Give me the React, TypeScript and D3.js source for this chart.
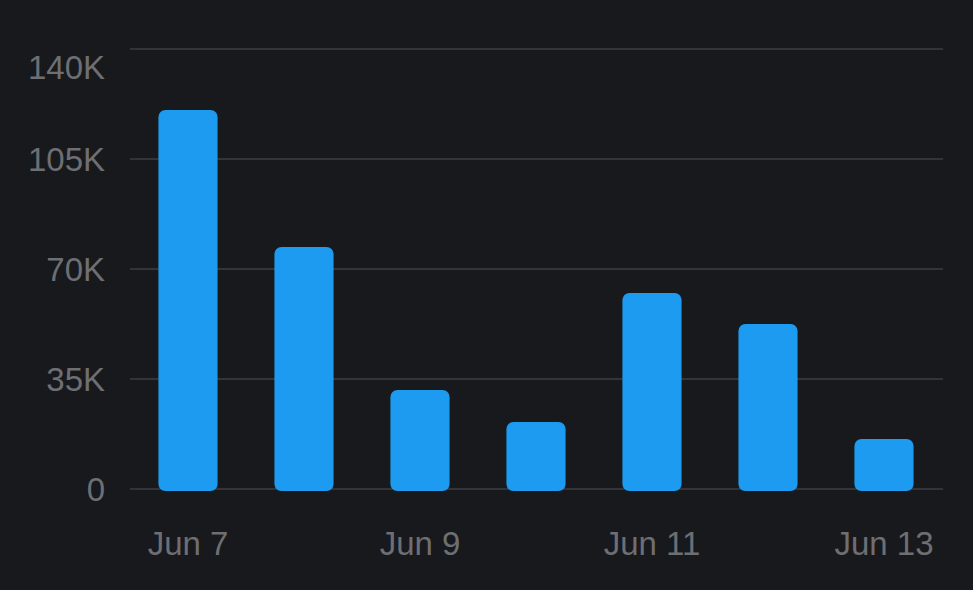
import { useRef, useEffect } from "react";
import * as d3 from "d3";

const days = ["Jun 7", "Jun 8", "Jun 9", "Jun 10", "Jun 11", "Jun 12", "Jun 13"];
const views = [120600, 77000, 31500, 21300, 62400, 52500, 15900];
const yTicks = [0, 35000, 70000, 105000, 140000];
const xLabels = ["Jun 7", "Jun 9", "Jun 11", "Jun 13"];

const W = 973;
const H = 590;

const App = () => {
  const svgRef = useRef<SVGSVGElement>(null);

  useEffect(() => {
    const svg = d3.select(svgRef.current);
    svg.selectAll("*").remove();

    const font = "'Liberation Sans', Arial, sans-serif";
    const textColor = "#6e6f73";

    svg.append("rect").attr("width", W).attr("height", H).attr("fill", "#18191d");

    const x = d3
      .scaleBand<string>()
      .domain(days)
      .range([130, 942])
      .paddingInner(0.49)
      .paddingOuter(0.245);
    const y = d3.scaleLinear().domain([0, 140000]).range([489, 49]);

    // gridlines
    svg
      .append("g")
      .selectAll("line")
      .data(yTicks)
      .join("line")
      .attr("x1", 130)
      .attr("x2", 943)
      .attr("y1", (d) => y(d))
      .attr("y2", (d) => y(d))
      .attr("stroke", "#333439")
      .attr("stroke-width", 2);

    // y labels (top one pushed down so it stays in view)
    svg
      .append("g")
      .selectAll("text")
      .data(yTicks)
      .join("text")
      .attr("x", 105)
      .attr("y", (d) => Math.max(y(d), 67))
      .attr("dy", "0.36em")
      .attr("text-anchor", "end")
      .attr("fill", textColor)
      .style("font", `33px ${font}`)
      .text((d) => (d === 0 ? "0" : d / 1000 + "K"));

    // bars
    svg
      .append("g")
      .selectAll("rect")
      .data(days)
      .join("rect")
      .attr("x", (d) => x(d)!)
      .attr("width", x.bandwidth())
      .attr("y", (_, i) => y(views[i]))
      .attr("height", (_, i) => y(0) - y(views[i]) + 2)
      .attr("rx", 7)
      .attr("fill", "#1d9bf0");

    // x labels
    svg
      .append("g")
      .selectAll("text")
      .data(xLabels)
      .join("text")
      .attr("x", (d) => x(d)! + x.bandwidth() / 2)
      .attr("y", 555)
      .attr("text-anchor", "middle")
      .attr("fill", textColor)
      .style("font", `33px ${font}`)
      .text((d) => d);

    return () => {
      svg.selectAll("*").remove();
    };
  }, []);

  return (
    <div style={{ position: "fixed", left: 0, top: 0 }}>
      <svg ref={svgRef} width={W} height={H} style={{ display: "block" }}></svg>
    </div>
  );
};

export default App;
